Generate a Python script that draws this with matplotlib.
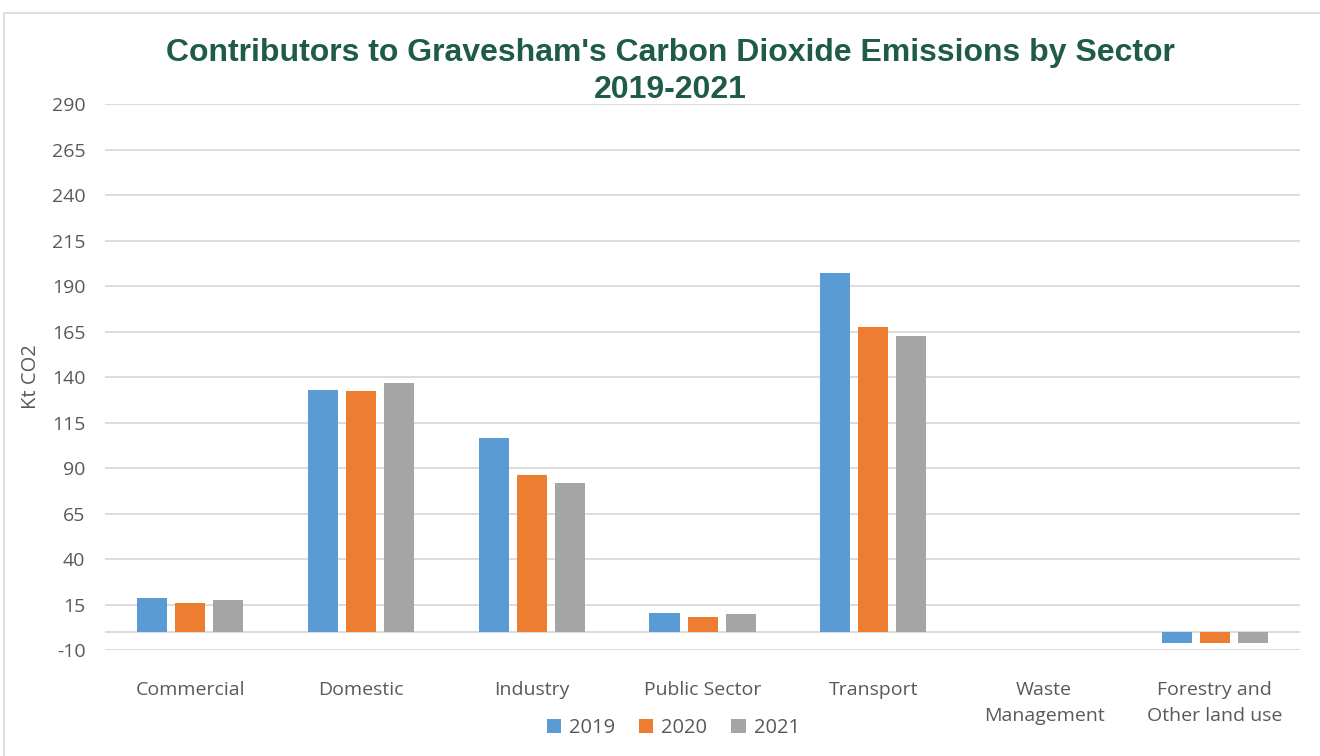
import matplotlib.pyplot as plt
import numpy as np
from matplotlib.patches import Rectangle

sectors = ['Commercial', 'Domestic', 'Industry', 'Public Sector', 'Transport',
           'Waste\nManagement', 'Forestry and\nOther land use']
years = ['2019', '2020', '2021']
v2019 = [18.7, 132.9, 106.5, 10.3, 197.1, 0.0, -6.3]
v2020 = [15.6, 132.3, 86.2, 8.1, 167.3, 0.0, -6.3]
v2021 = [17.3, 136.7, 81.8, 9.8, 162.5, 0.0, -6.3]
colors = ['#5B9BD5', '#ED7D31', '#A5A5A5']
yticks = list(range(-10, 291, 25))

plt.rcParams['font.family'] = ['Open Sans', 'DejaVu Sans']
plt.rcParams['axes.unicode_minus'] = False

fig = plt.figure(figsize=(13.2, 7.56), dpi=100)
ax = fig.add_axes([0.0795, 0.1402, 0.9055, 0.7222])

x = np.arange(len(sectors))
w = 0.176
off = 0.223
for i, (vals, yr) in enumerate(zip([v2019, v2020, v2021], years)):
    ax.bar(x + (i - 1) * off, vals, width=w, color=colors[i], label=yr, zorder=3)

ax.set_ylim(-10, 290)
ax.set_xlim(-0.5, len(sectors) - 0.5)
ax.set_yticks(yticks)
ax.set_xticks(x)
ax.set_xticklabels(sectors, linespacing=1.6, va='top')
ax.tick_params(axis='both', length=0, labelsize=14, colors='#595959')
ax.tick_params(axis='x', pad=22)
ax.tick_params(axis='y', pad=14)
ax.grid(axis='y', color='#D9D9D9', linewidth=1.3, zorder=0)
ax.axhline(0, color='#D9D9D9', linewidth=1.3, zorder=1)
for s in ax.spines.values():
    s.set_visible(False)

ax.set_ylabel('Kt CO2', fontsize=14.5, color='#595959', labelpad=8)

fig.text(0.508, 0.905, "Contributors to Gravesham's Carbon Dioxide Emissions by Sector\n2019-2021",
         ha='center', va='center', fontsize=23, fontweight='bold', color='#1F5C45',
         family=['Liberation Sans'], linespacing=1.3)

fig.legend(loc='center', bbox_to_anchor=(0.51, 0.037), ncol=3, frameon=False,
           fontsize=14.5, handlelength=0.7, handleheight=0.7, columnspacing=1.2,
           handletextpad=0.4, labelcolor='#595959')

fig.add_artist(Rectangle((0.003, -0.01), 1.2, 0.993, transform=fig.transFigure,
                         fill=False, edgecolor='#D9D9D9', linewidth=1.2))

fig.savefig('out.png', dpi=100)
